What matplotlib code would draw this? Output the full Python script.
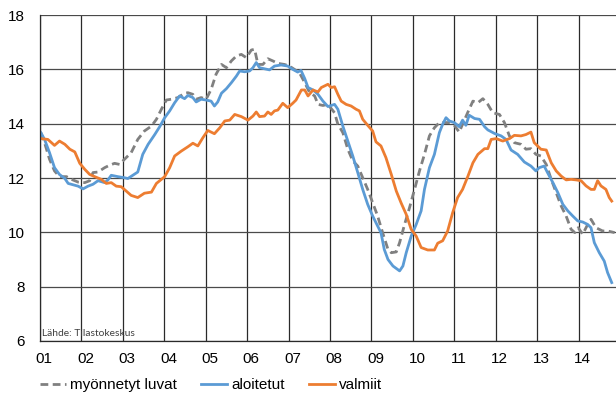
import numpy as np
import matplotlib
matplotlib.use("Agg")
import matplotlib.pyplot as plt

plt.rcParams["font.family"] = ["Liberation Sans", "DejaVu Sans"]

# 12 kk liukuva summa (tuhatta asuntoa?), luettu kuvasta
luvat_t = [2001.02, 2001.11, 2001.23, 2001.35, 2001.47, 2001.64, 2001.76, 2001.92, 2002.08, 2002.20,
           2002.28, 2002.40, 2002.56, 2002.68, 2002.80, 2002.92, 2003.04, 2003.20, 2003.36, 2003.52,
           2003.69, 2003.81, 2003.93, 2004.05, 2004.17, 2004.33, 2004.49, 2004.57, 2004.69, 2004.77,
           2004.89, 2005.01, 2005.13, 2005.25, 2005.38, 2005.50, 2005.62, 2005.74, 2005.86, 2005.98,
           2006.10, 2006.18, 2006.26, 2006.38, 2006.50, 2006.62, 2006.74, 2006.90, 2007.02, 2007.14,
           2007.26, 2007.39, 2007.51, 2007.63, 2007.71, 2007.83, 2007.95, 2008.11, 2008.19, 2008.31,
           2008.43, 2008.55, 2008.67, 2008.79, 2008.91, 2009.03, 2009.15, 2009.27, 2009.40, 2009.48,
           2009.60, 2009.68, 2009.80, 2009.92, 2010.04, 2010.16, 2010.28, 2010.40, 2010.52, 2010.64,
           2010.76, 2010.88, 2011.00, 2011.12, 2011.20, 2011.33, 2011.45, 2011.57, 2011.69, 2011.81,
           2011.93, 2012.09, 2012.21, 2012.33, 2012.45, 2012.61, 2012.73, 2012.85, 2012.97, 2013.09,
           2013.22, 2013.34, 2013.46, 2013.58, 2013.70, 2013.82, 2013.91, 2013.99, 2014.10, 2014.22,
           2014.30, 2014.42, 2014.58, 2014.70, 2014.87]
luvat = [13.67, 13.3, 12.69, 12.26, 12.05, 12.05, 11.95, 11.85, 11.83, 11.9,
         12.2, 12.22, 12.38, 12.47, 12.54, 12.5, 12.69, 12.93, 13.42, 13.73,
         13.91, 14.16, 14.53, 14.87, 14.9, 14.96, 15.12, 15.14, 15.08, 14.9,
         14.96, 14.9, 15.26, 15.82, 16.18, 16.06, 16.31, 16.49, 16.55, 16.43,
         16.71, 16.74, 16.18, 16.18, 16.39, 16.31, 16.22, 16.18, 16.12, 16.0,
         15.88, 15.51, 15.14, 15.02, 14.71, 14.67, 14.71, 14.4, 13.98, 13.67,
         13.06, 12.63, 12.44, 12.01, 11.58, 11.09, 10.6, 9.99, 9.37, 9.25,
         9.28, 9.62, 10.29, 10.91, 11.58, 12.26, 12.87, 13.55, 13.85, 14.04,
         14.04, 14.04, 13.94, 13.69, 13.98, 14.43, 14.83, 14.77, 14.92, 14.71,
         14.4, 14.34, 14.04, 13.55, 13.3, 13.24, 13.06, 13.08, 12.87, 12.81,
         12.5, 11.95, 11.46, 10.97, 10.6, 10.11, 9.99, 10.17, 9.93, 10.29,
         10.48, 10.17, 10.05, 10.05, 9.99]

aloit_t = [2001.02, 2001.11, 2001.23, 2001.35, 2001.47, 2001.60, 2001.68, 2001.80, 2001.92, 2002.04,
           2002.16, 2002.28, 2002.40, 2002.56, 2002.64, 2002.72, 2002.88, 2003.04, 2003.12, 2003.24,
           2003.36, 2003.48, 2003.61, 2003.77, 2003.89, 2004.01, 2004.13, 2004.25, 2004.37, 2004.49,
           2004.57, 2004.69, 2004.77, 2004.89, 2005.01, 2005.13, 2005.21, 2005.29, 2005.38, 2005.50,
           2005.62, 2005.74, 2005.82, 2005.94, 2006.06, 2006.14, 2006.22, 2006.30, 2006.42, 2006.54,
           2006.66, 2006.82, 2006.98, 2007.10, 2007.22, 2007.30, 2007.39, 2007.47, 2007.59, 2007.71,
           2007.83, 2007.95, 2008.11, 2008.19, 2008.31, 2008.43, 2008.55, 2008.67, 2008.79, 2008.91,
           2009.03, 2009.15, 2009.23, 2009.31, 2009.40, 2009.52, 2009.68, 2009.76, 2009.84, 2009.96,
           2010.08, 2010.20, 2010.28, 2010.40, 2010.52, 2010.64, 2010.72, 2010.80, 2010.88, 2011.00,
           2011.12, 2011.20, 2011.28, 2011.36, 2011.49, 2011.61, 2011.73, 2011.81, 2011.97, 2012.13,
           2012.25, 2012.37, 2012.53, 2012.69, 2012.85, 2012.97, 2013.05, 2013.17, 2013.25, 2013.38,
           2013.50, 2013.62, 2013.74, 2013.86, 2013.98, 2014.10, 2014.22, 2014.30, 2014.38, 2014.50,
           2014.62, 2014.70, 2014.80]
aloit = [13.67, 13.42, 12.93, 12.38, 12.13, 11.98, 11.8, 11.75, 11.7, 11.6,
         11.7, 11.77, 11.9, 11.83, 11.93, 12.1, 12.05, 12.01, 11.98, 12.1,
         12.22, 12.87, 13.24, 13.6, 13.89, 14.22, 14.47, 14.77, 15.02, 14.92,
         15.04, 14.96, 14.8, 14.9, 14.87, 14.83, 14.65, 14.8, 15.12, 15.29,
         15.51, 15.75, 15.94, 15.91, 15.94, 16.06, 16.25, 16.06, 16.02, 15.98,
         16.12, 16.16, 16.12, 16.0, 15.9, 15.96, 15.66, 15.33, 15.24, 15.08,
         14.83, 14.63, 14.71, 14.53, 13.91, 13.36, 12.81, 12.2, 11.58, 11.03,
         10.6, 10.23, 9.99, 9.37, 9.0, 8.76, 8.58, 8.76, 9.25, 9.86,
         10.29, 10.79, 11.58, 12.38, 12.87, 13.67, 13.98, 14.22, 14.1, 14.04,
         13.89, 14.13, 13.94, 14.31, 14.19, 14.16, 13.89, 13.77, 13.64, 13.55,
         13.42, 13.03, 12.87, 12.59, 12.44, 12.26, 12.38, 12.44, 12.2, 11.83,
         11.46, 11.03, 10.79, 10.6, 10.42, 10.38, 10.29, 10.17, 9.62, 9.25,
         8.94, 8.52, 8.15]

valm_t = [2001.02, 2001.19, 2001.35, 2001.47, 2001.60, 2001.72, 2001.84, 2001.96, 2002.08, 2002.20,
          2002.32, 2002.48, 2002.60, 2002.72, 2002.84, 2002.96, 2003.08, 2003.20, 2003.36, 2003.52,
          2003.69, 2003.81, 2003.93, 2004.01, 2004.13, 2004.25, 2004.41, 2004.57, 2004.69, 2004.81,
          2004.93, 2005.05, 2005.21, 2005.34, 2005.46, 2005.58, 2005.70, 2005.86, 2006.02, 2006.14,
          2006.22, 2006.30, 2006.42, 2006.50, 2006.58, 2006.66, 2006.74, 2006.86, 2006.98, 2007.10,
          2007.18, 2007.31, 2007.39, 2007.47, 2007.59, 2007.71, 2007.79, 2007.95, 2008.03, 2008.11,
          2008.19, 2008.27, 2008.39, 2008.51, 2008.63, 2008.71, 2008.79, 2008.91, 2009.03, 2009.11,
          2009.23, 2009.35, 2009.48, 2009.60, 2009.72, 2009.84, 2009.96, 2010.08, 2010.20, 2010.36,
          2010.52, 2010.60, 2010.72, 2010.84, 2010.96, 2011.08, 2011.20, 2011.33, 2011.45, 2011.57,
          2011.73, 2011.81, 2011.89, 2012.01, 2012.17, 2012.33, 2012.45, 2012.61, 2012.73, 2012.85,
          2012.93, 2013.01, 2013.09, 2013.22, 2013.34, 2013.46, 2013.58, 2013.70, 2013.82, 2013.94,
          2014.06, 2014.18, 2014.30, 2014.38, 2014.46, 2014.54, 2014.66, 2014.74, 2014.80]
valm = [13.45, 13.42, 13.2, 13.36, 13.24, 13.06, 12.96, 12.54, 12.32, 12.13,
        12.05, 11.95, 11.8, 11.83, 11.7, 11.68, 11.52, 11.36, 11.28, 11.44,
        11.48, 11.8, 11.95, 12.05, 12.38, 12.81, 12.99, 13.15, 13.28, 13.18,
        13.48, 13.75, 13.63, 13.85, 14.1, 14.13, 14.34, 14.26, 14.13, 14.28,
        14.43, 14.26, 14.28, 14.43, 14.34, 14.47, 14.5, 14.75, 14.59, 14.75,
        14.87, 15.24, 15.24, 15.02, 15.24, 15.17, 15.33, 15.45, 15.33, 15.36,
        15.08, 14.83, 14.71, 14.65, 14.53, 14.47, 14.16, 13.94, 13.73, 13.33,
        13.18, 12.75, 12.13, 11.52, 11.07, 10.66, 10.11, 9.86, 9.44, 9.35,
        9.35, 9.6, 9.69, 10.05, 10.72, 11.28, 11.58, 12.07, 12.56, 12.87,
        13.08, 13.08, 13.42, 13.45, 13.36, 13.45, 13.57, 13.55, 13.6, 13.69,
        13.3, 13.18, 13.06, 13.03, 12.56, 12.26, 12.07, 11.93, 11.95, 11.93,
        11.9, 11.71, 11.58, 11.58, 11.9, 11.71, 11.58, 11.28, 11.15]

years = np.arange(2001, 2016)
year_labels = ["01", "02", "03", "04", "05", "06", "07", "08", "09", "10", "11", "12", "13", "14"]

fig = plt.figure(figsize=(6.16, 3.94), dpi=100)
# axes runs a little past the right edge of the picture, like the cropped original
ax = fig.add_axes([40 / 616, 53 / 394, 580 / 616, 326 / 394])

ax.plot(luvat_t, luvat, color="#808080", lw=2.0, dashes=(2.8, 1.6), label="myönnetyt luvat")
ax.plot(aloit_t, aloit, color="#5b9bd5", lw=2.0, label="aloitetut")
ax.plot(valm_t, valm, color="#ed7d31", lw=2.0, label="valmiit")

ax.set_xlim(2001, 2015)
ax.set_ylim(6, 18)
ax.set_yticks(np.arange(6, 19, 2))
ax.set_xticks(years[:-1] + 0.1, year_labels)
ax.set_xticks(years, minor=True)
ax.tick_params(axis="both", which="both", length=0, labelsize=11, colors="#000000")
ax.tick_params(axis="x", pad=8)
ax.tick_params(axis="y", pad=11)
ax.grid(True, axis="y", which="major", color="#4a4a4a", lw=0.9)
ax.grid(True, axis="x", which="minor", color="#2a2a2a", lw=0.9)
ax.set_axisbelow(True)
for s in ["top", "right"]:
    ax.spines[s].set_visible(False)
for s in ["left", "bottom"]:
    ax.spines[s].set_color("#2a2a2a")
    ax.spines[s].set_linewidth(0.9)

ax.text(2001.05, 6.12, "Lähde: Tilastokeskus", fontsize=7.4, color="#404040",
        family=["Lato", "DejaVu Sans"], va="bottom", ha="left")

fig.legend(loc="center left", bbox_to_anchor=(40 / 616, 9 / 394), ncol=3, frameon=False,
           fontsize=11, handlelength=1.7, handletextpad=0.25, columnspacing=1.6,
           borderpad=0, borderaxespad=0)

fig.savefig("out.png", dpi=100)
